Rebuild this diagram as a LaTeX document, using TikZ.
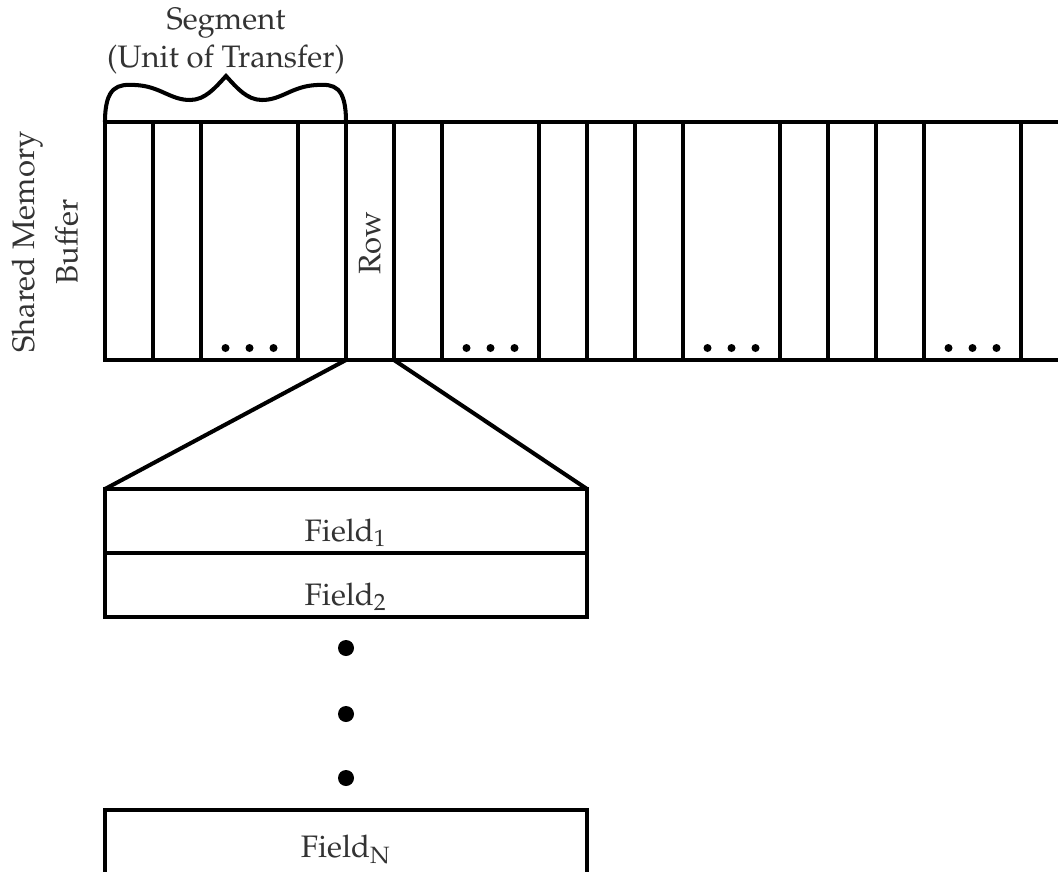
\documentclass[tikz,border=0pt]{standalone}
\usepackage[T1]{fontenc}
\usepackage{mathpazo}
\usetikzlibrary{positioning}
\newlength\px
\setlength\px{0.322pt}
\tikzset{
  cellbox/.style={draw, line width=1.3pt, minimum height=238\px, inner sep=0pt, outer sep=0pt, anchor=north west},
  narrow/.style={cellbox, minimum width=48\px},
  wide/.style={cellbox, minimum width=97\px},
  fieldbox/.style={draw, line width=1.3pt, minimum width=482\px, minimum height=64\px, inner sep=0pt, outer sep=0pt, text height=13pt, text depth=0pt, text=black!80},
  lbl/.style={text=black!80, align=center}
}
\begin{document}
\begin{tikzpicture}[x=\px, y=-\px]
  \useasboundingbox (0,0) rectangle (1058,872);
  % buffer of segments
  \foreach \s in {0,...,3} {
    \node[narrow] (c\s-0) at ({105+241*\s},122) {};
    \node[narrow, right=0pt of c\s-0] (c\s-1) {};
    \node[wide, right=0pt of c\s-1] (c\s-2) {};
    \node[narrow, right=0pt of c\s-2] (c\s-3) {};
    \foreach \dx in {-24,0,24}
      \fill ([shift={(\dx,-12)}]c\s-2.south) circle (4\px);
  }
  \node[lbl, rotate=90] (buflabel) at (45,242) {Shared Memory\\[2pt]Buffer};
  \node[lbl, rotate=90] (rowlabel) at ([yshift=-2\px]c1-0.center) {Row};
  % brace over one segment
  \draw[line width=1.3pt] (c0-0.north west) .. controls (105,86) and (118,84) .. (135,85)
    .. controls (160,86) and (170,100) .. (190,100)
    .. controls (205,100) and (215,88) .. (226,76)
    .. controls (237,88) and (247,100) .. (262,100)
    .. controls (282,100) and (292,86) .. (317,85)
    .. controls (334,84) and (346,86) .. (c0-3.north east);
  \node[lbl] (seglabel) at (226,41) {Segment\\(Unit of Transfer)};
  % fields of one row
  \node[fieldbox, anchor=north west] (f1) at (105,489) {Field$_1$};
  \node[fieldbox, below=0pt of f1] (f2) {Field$_2$};
  \foreach \y in {648,714,778}
    \fill (346,\y) circle (8\px);
  \node[fieldbox, anchor=north west, minimum height=70\px, text height=9pt, text depth=1pt] (fN) at (105,810) {Field$_{\mathrm{N}}$};
  \draw[line width=1.3pt] (c1-0.south west) -- (f1.north west);
  \draw[line width=1.3pt] (c1-0.south east) -- (f1.north east);
\end{tikzpicture}
\end{document}
